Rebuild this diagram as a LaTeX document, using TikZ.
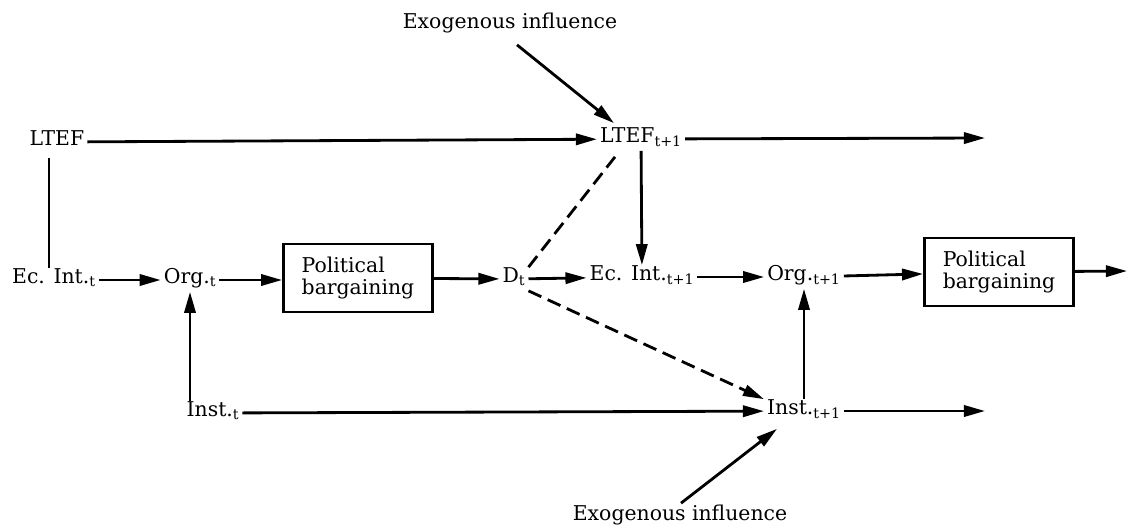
\documentclass[tikz,border=0pt]{standalone}
\usepackage{fontspec}
\setmainfont{DejaVu Serif}
\usepackage{tikz}
\usetikzlibrary{arrows.meta}

\begin{document}
\begin{tikzpicture}[x=0.025cm,y=-0.025cm,font=\fontsize{14.5}{16}\selectfont,
	every node/.style={inner sep=2pt},
	lbl/.style={text height=1.7ex,text depth=0.7ex},
	link/.style={line width=2pt},
	arr/.style={link,-{Triangle[length=15pt,width=8pt]}},
	dash link/.style={link,dash pattern=on 10pt off 5pt},
	pbox/.style={draw,line width=2pt,minimum width=149*0.025cm,minimum height=68*0.025cm,align=left}]
	\useasboundingbox (0,0) rectangle (1128,527);
	\node[lbl] (exotop) at (510,25) {Exogenous influence};
	\node[lbl] (ltef) at (57,142) {LTEF};
	\node[lbl] (ltefn) at (641,139) {LTEF\textsubscript{t+1}};
	\node[lbl] (ecint) at (54,280) {Ec. Int.\textsubscript{t}};
	\node[lbl] (org) at (190,280) {Org.\textsubscript{t}};
	\node[pbox] (pb1) at (358,278) {Political\\bargaining};
	\node[lbl] (dt) at (514,279) {D\textsubscript{t}};
	\node[lbl] (ecintn) at (642,277) {Ec. Int.\textsubscript{t+1}};
	\node[lbl] (orgn) at (804,277) {Org.\textsubscript{t+1}};
	\node[pbox] (pb2) at (999,272) {Political\\bargaining};
	\node[lbl] (instt) at (213,413) {Inst.\textsubscript{t}};
	\node[lbl] (instn) at (804,411) {Inst.\textsubscript{t+1}};
	\node[lbl] (exobot) at (680,517) {Exogenous influence};
	\coordinate (ltefend) at (985,138);
	\coordinate (pbend) at (1127,271);
	\coordinate (instend) at (985,411);

	\draw[arr] (ltef) -- (ltefn);
	\draw[arr] (ltefn) -- (ltefend);
	\draw[link] (ltef.south) ++(-8,4) coordinate (lt) (lt) -- (lt |- ecint.north);
	\draw[arr] (ecint) -- (org);
	\draw[arr] (org) -- (org -| pb1.west);
	\draw[arr] (pb1) -- (dt);
	\draw[arr] (dt) -- (ecintn);
	\draw[arr] (ecintn) -- (orgn);
	\draw[arr] (orgn) -- (pb2);
	\draw[arr] (pb2) -- (pbend);
	\draw[arr] (ltefn) -- (ecintn);
	\draw[arr] (instt.north -| org) -- (org);
	\draw[arr] (instn) -- (orgn);
	\draw[arr] (instt) -- (instn);
	\draw[arr] (instn) -- (instend);
	\draw[arr] ([shift={(7,8)}]exotop.south) -- ([shift={(-27,-4)}]ltefn.north);
	\draw[arr] ([shift={(1,-2)}]exobot.north) -- ([shift={(-27,6)}]instn.south);
	\draw[dash link] (dt.north east) -- ([shift={(-26,6)}]ltefn.south);
	\draw[dash link,-{Triangle[length=15pt,width=8pt]}] (dt.south east) -- (instn.north west);
\end{tikzpicture}
\end{document}
